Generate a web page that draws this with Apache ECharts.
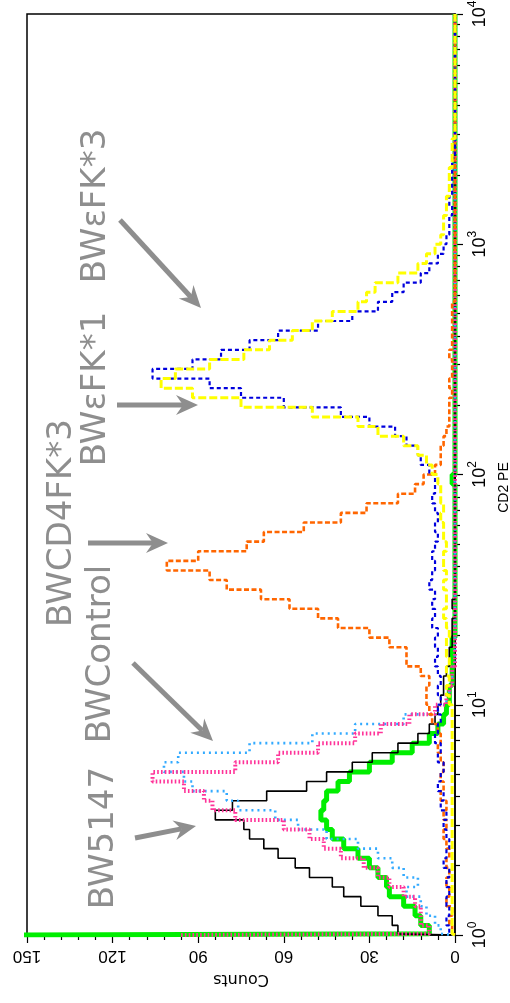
<!DOCTYPE html>
<html>
<head>
<meta charset="utf-8">
<script src="https://cdn.jsdelivr.net/npm/echarts@6/dist/echarts.min.js"></script>
<style>
  html, body { margin: 0; padding: 0; background: #fff; }
  #chart { width: 510px; height: 1003px; }
</style>
</head>
<body>
<div id="chart"></div>
<script>
// CD2 PE histograms. Channels are evenly spaced in log10: 24 per decade from 10^0 to 10^4.
// Each list holds the counts per channel, lowest channel first.
const binsPerDecade = 24;
const pileUpWidth = 0.005;      // log10 width of the bottom (pile-up) channel

const seriesNames = ['green', 'black', 'lightblue', 'pink', 'orange', 'blue', 'yellow'];
// counts in the pile-up channel at 10^0 (same order as seriesNames)
const pileUpCounts = [160, 0, 0, 96, 0, 0, 0];

const countsGreen = [
  9, 12, 14, 18, 23, 24, 27, 30, 34, 39, 43, 45, 47, 46, 45, 41, 37, 30, 22, 15, 9, 6, 4, 3,
  2, 2, 1, 1, 1, 1, 1, 0, 0, 0, 0, 0, 0, 0, 0, 0, 0, 0, 0, 0, 0, 0, 0, 1,
  0, 0, 0, 0, 0, 0, 0, 0, 0, 0, 0, 0, 0, 0, 0, 0, 0, 0, 0, 0, 0, 0, 0, 0,
  0, 0, 0, 0, 0, 0, 0, 0, 0, 0, 0, 0, 0, 0, 0, 0, 0, 0, 0, 0, 0, 0, 0, 0
];
const countsBlack = [
  20, 22, 27, 33, 39, 43, 51, 56, 62, 67, 72, 74, 84, 78, 66, 52, 45, 36, 29, 20, 13, 9, 7, 6,
  5, 4, 4, 3, 2, 2, 1, 1, 1, 0, 1, 0, 0, 0, 0, 0, 0, 0, 0, 0, 0, 0, 0, 0,
  0, 0, 0, 0, 0, 0, 0, 0, 0, 0, 0, 0, 0, 0, 0, 0, 0, 0, 0, 0, 0, 0, 0, 0,
  0, 0, 0, 0, 0, 0, 0, 0, 0, 0, 0, 0, 0, 0, 0, 0, 0, 0, 0, 0, 0, 0, 0, 0
];
const countsLightBlue = [
  5, 7, 10, 12, 17, 13, 18, 22, 27, 34, 45, 55, 63, 76, 80, 92, 95, 102, 97, 72, 50, 35, 18, 6,
  3, 2, 1, 1, 0, 0, 0, 0, 0, 0, 0, 0, 0, 0, 0, 0, 0, 0, 0, 0, 0, 0, 0, 0,
  0, 0, 0, 0, 0, 0, 0, 0, 0, 0, 0, 0, 0, 0, 0, 0, 0, 0, 0, 0, 0, 0, 0, 0,
  0, 0, 0, 0, 0, 0, 0, 0, 0, 0, 0, 0, 0, 0, 0, 0, 0, 0, 0, 0, 0, 0, 0, 0
];
const countsPink = [
  9, 12, 12, 14, 18, 23, 27, 32, 40, 46, 51, 60, 77, 85, 88, 95, 106, 77, 62, 48, 35, 26, 16, 7,
  3, 2, 1, 1, 0, 0, 0, 0, 0, 0, 0, 0, 0, 0, 0, 0, 0, 0, 0, 0, 0, 0, 0, 0,
  0, 0, 0, 0, 0, 0, 0, 0, 0, 0, 0, 0, 0, 0, 0, 0, 0, 0, 0, 0, 0, 0, 0, 0,
  0, 0, 0, 0, 0, 0, 0, 0, 0, 0, 0, 0, 0, 0, 0, 0, 0, 0, 0, 0, 0, 0, 0, 0
];
const countsOrange = [
  1, 2, 1, 3, 2, 3, 2, 3, 2, 3, 4, 3, 4, 3, 5, 4, 5, 4, 5, 6, 5, 6, 8, 9,
  10, 10, 9, 12, 17, 17, 23, 30, 41, 48, 58, 68, 80, 86, 101, 90, 73, 67, 53, 40, 31, 20, 14, 11,
  7, 5, 5, 4, 3, 2, 2, 2, 1, 2, 1, 1, 2, 1, 1, 1, 1, 1, 0, 0, 0, 0, 0, 0,
  0, 0, 0, 0, 0, 0, 0, 0, 0, 0, 0, 0, 0, 0, 0, 0, 0, 0, 0, 0, 0, 0, 0, 0
];
const countsBlue = [
  2, 3, 2, 3, 2, 3, 2, 4, 3, 2, 3, 4, 3, 5, 4, 6, 5, 4, 6, 5, 7, 6, 5, 6,
  5, 6, 5, 6, 7, 6, 7, 6, 8, 7, 8, 7, 9, 8, 7, 8, 7, 6, 7, 6, 7, 8, 7, 7,
  9, 12, 13, 17, 21, 30, 40, 60, 75, 86, 106, 92, 82, 72, 62, 48, 36, 27, 22, 18, 12, 9, 6, 4,
  3, 2, 2, 1, 2, 1, 1, 1, 1, 0, 0, 0, 0, 0, 0, 0, 0, 0, 0, 0, 0, 0, 0, 0
];
const countsYellow = [
  1, 1, 1, 1, 1, 1, 1, 1, 1, 1, 1, 1, 1, 1, 1, 1, 1, 1, 1, 1, 1, 1, 1, 1,
  2, 3, 2, 3, 2, 3, 3, 2, 3, 4, 3, 3, 4, 3, 4, 4, 3, 4, 4, 5, 4, 5, 5, 6,
  8, 10, 13, 18, 27, 34, 50, 75, 92, 103, 98, 86, 74, 65, 57, 50, 43, 34, 31, 28, 20, 13, 10, 7,
  5, 4, 4, 3, 3, 2, 2, 2, 1, 1, 1, 0, 0, 0, 0, 0, 0, 0, 0, 0, 0, 0, 0, 0
];
const seriesCounts = [countsGreen, countsBlack, countsLightBlue, countsPink, countsOrange, countsBlue, countsYellow];

// axis ticks
const countTicks = [0, 30, 60, 90, 120, 150];
const decadeExponents = [0, 1, 2, 3, 4];
const minorMultipliers = [2, 3, 4, 5, 6, 7, 8, 9];

// annotation labels, bottom-to-top reading
const annotationLabels = ['BWεFK*3', 'BWεFK*1', 'BWCD4FK*3', 'BWControl', 'BW5147'];

const GRAY = '#8e8e8e';
const lineStyles = [
  { color: '#00ee00', width: 5, type: 'solid' },
  { color: '#000000', width: 1.6, type: 'solid' },
  { color: '#33aaff', width: 2.6, type: [2, 4] },
  { color: '#ff3399', width: 4, type: [1.6, 2.2] },
  { color: '#ff6600', width: 2.6, type: [5, 2.5] },
  { color: '#0000dd', width: 2.2, type: [4, 3] },
  { color: '#ffff00', width: 3, type: [8, 3] }
];

// turn channel counts into a stepped outline (count, CD2) running up the log axis
function histogramPath(pile, counts) {
  const start = Math.pow(10, pileUpWidth);
  const pts = [[pile, 1], [pile, start]];
  counts.forEach(function (c, k) {
    const lo = k === 0 ? start : Math.pow(10, k / binsPerDecade);
    const hi = Math.pow(10, (k + 1) / binsPerDecade);
    pts.push([c, lo], [c, hi]);
  });
  return pts;
}

const minorTickValues = [];
decadeExponents.slice(0, -1).forEach(function (e) {
  minorMultipliers.forEach(function (m) { minorTickValues.push(m * Math.pow(10, e)); });
});

function arrow(x1, y1, x2, y2) {
  const dx = x2 - x1, dy = y2 - y1, len = Math.hypot(dx, dy);
  const ux = dx / len, uy = dy / len, px = -uy, py = ux;
  const headLen = 22, headHalf = 10, notch = 7;
  const bx = x2 - ux * headLen, by = y2 - uy * headLen;
  const nx = x2 - ux * (headLen - notch), ny = y2 - uy * (headLen - notch);
  return {
    type: 'group',
    children: [
      { type: 'line', shape: { x1: x1, y1: y1, x2: nx, y2: ny }, style: { stroke: GRAY, lineWidth: 5 } },
      { type: 'polygon', shape: { points: [[x2, y2], [bx + px * headHalf, by + py * headHalf], [nx, ny], [bx - px * headHalf, by - py * headHalf]] }, style: { fill: GRAY } }
    ]
  };
}

const textPos = [[96, 206], [96, 389], [62, 523], [101, 654], [104, 838]];
const arrowPos = [[120, 220, 201, 308], [117, 405, 198, 405], [88, 543, 168, 543], [133, 663, 213, 741], [135, 838, 196, 826]];

const graphics = [];
annotationLabels.forEach(function (label, i) {
  graphics.push({
    type: 'text', x: textPos[i][0], y: textPos[i][1], rotation: Math.PI / 2, z: 10,
    style: { text: label, font: '34px "DejaVu Sans"', fill: GRAY, align: 'center', verticalAlign: 'middle' }
  });
  const a = arrowPos[i];
  graphics.push(arrow(a[0], a[1], a[2], a[3]));
});

const chart = echarts.init(document.getElementById('chart'), null, { renderer: 'canvas' });
chart.setOption({
  animation: false,
  backgroundColor: '#fff',
  grid: {
    left: 27, right: 55, top: 14, bottom: 68, containLabel: false, outerBoundsMode: 'none',
    show: true, borderColor: '#000', borderWidth: 1.5
  },
  xAxis: {
    type: 'value', min: countTicks[0], max: countTicks[countTicks.length - 1], interval: countTicks[1] - countTicks[0],
    inverse: true, position: 'bottom',
    axisLine: { show: true, onZero: false, lineStyle: { color: '#000', width: 1.5 } },
    axisTick: { show: true, inside: false, length: 8, lineStyle: { color: '#000', width: 1.2 } },
    minorTick: { show: true, splitNumber: 5, length: 5, lineStyle: { color: '#000', width: 1.2 } },
    splitLine: { show: false },
    axisLabel: { rotate: 180, margin: 12, color: '#000', fontSize: 17, fontFamily: '"Liberation Sans", Arial' },
    name: 'Counts', nameLocation: 'middle', nameRotate: 180, nameGap: 36,
    nameTextStyle: { color: '#000', fontSize: 16, fontFamily: '"DejaVu Sans"' }
  },
  yAxis: [{
    type: 'log', logBase: 10, min: 1, max: 10000, position: 'right',
    axisLine: { show: true, onZero: false, lineStyle: { color: '#000', width: 1.5 } },
    axisTick: { show: true, inside: false, length: 8, lineStyle: { color: '#000', width: 1.2 } },
    splitLine: { show: false },
    axisLabel: {
      rotate: 90, margin: 12, color: '#000',
      formatter: function (v) { return '{b|10}{s|' + Math.round(Math.log10(v)) + '}'; },
      rich: {
        b: { fontSize: 18, fontFamily: '"Liberation Sans", Arial', color: '#000', verticalAlign: 'bottom' },
        s: { fontSize: 12, fontFamily: '"Liberation Sans", Arial', color: '#000', verticalAlign: 'bottom', padding: [0, 0, 10, 0] }
      }
    },
    name: 'CD2 PE', nameLocation: 'middle', nameRotate: 90, nameGap: 39,
    nameTextStyle: { color: '#000', fontSize: 14, fontFamily: '"Liberation Sans", Arial', padding: [0, 26, 0, 0] }
  }, {
    type: 'log', logBase: 10, min: 1, max: 10000, position: 'right',
    axisLine: { show: false },
    axisTick: { show: true, inside: false, length: 5, customValues: minorTickValues, lineStyle: { color: '#000', width: 1.2 } },
    axisLabel: { show: false },
    splitLine: { show: false }
  }],
  series: seriesNames.map(function (name, i) {
    return {
      name: name, type: 'line', xAxisIndex: 0, yAxisIndex: 0,
      data: histogramPath(pileUpCounts[i], seriesCounts[i]),
      symbol: 'none', showSymbol: false, clip: true, z: 2 + i,
      lineStyle: lineStyles[i]
    };
  }),
  graphic: graphics
});
</script>
</body>
</html>
